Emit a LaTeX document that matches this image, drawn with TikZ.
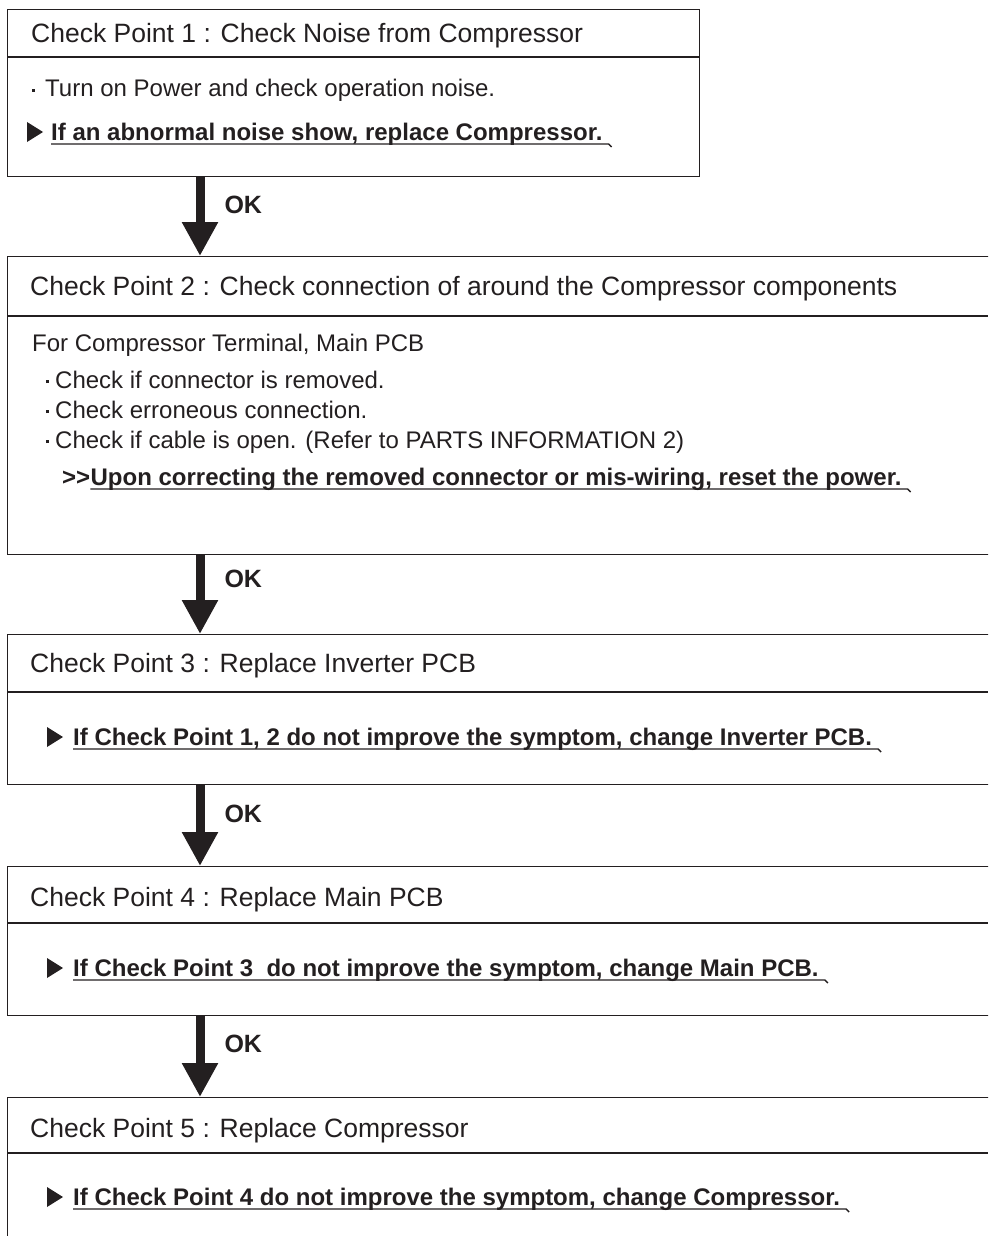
\documentclass[tikz,border=0pt]{standalone}
\usepackage{fontspec}
\setmainfont{Liberation Sans}
\usetikzlibrary{arrows.meta,calc}
\definecolor{ink}{HTML}{231F20}

% small square bullet
\newcommand{\sqbul}{\rule[5pt]{3pt}{3pt}\hspace{6pt}}

\begin{document}
\begin{tikzpicture}[x=1pt,y=-1pt,
  box/.style={draw=ink,line width=1.4pt,anchor=north west,inner sep=0pt},
  sep/.style={draw=ink,line width=1.4pt},
  title/.style={anchor=base west,inner sep=0pt,text=ink,font=\fontsize{26.5}{30}\selectfont},
  body/.style={anchor=base west,inner sep=0pt,text=ink,font=\fontsize{24}{28}\selectfont},
  bbody/.style={body,font=\fontsize{24}{28}\selectfont\bfseries},
  uline/.style={draw=ink,line width=1.4pt},
  okarrow/.style={draw=ink,line width=9pt,-{Triangle[width=34pt,length=34pt]}},
  oklabel/.style={anchor=west,inner sep=0pt,text=ink,font=\fontsize{25}{28}\selectfont\bfseries}]

\useasboundingbox (0,0) rectangle (988,1236);
\clip (0,0) rectangle (988,1236);

% Boxes
\node[box,minimum width=692pt,minimum height=167pt] (cp1) at (7,9) {};
\node[box,minimum width=1000pt,minimum height=298pt] (cp2) at (7,256) {};
\node[box,minimum width=1000pt,minimum height=150pt] (cp3) at (7,634) {};
\node[box,minimum width=1000pt,minimum height=149pt] (cp4) at (7,866) {};
\node[box,minimum width=1000pt,minimum height=160pt] (cp5) at (7,1097) {};

% Header lines
\draw[sep] (7,57)--(699,57);
\draw[sep] (7,316)--(988,316);
\draw[sep] (7,692)--(988,692);
\draw[sep] (7,923)--(988,923);
\draw[sep] (7,1153)--(988,1153);

% Check Point 1
\node[title] (t1) at (31,42.5) {Check Point 1 : Check Noise from Compressor};
\node[body] (b1) at (32,97) {\sqbul\hspace{4pt}Turn on Power and check operation noise.};
\node[bbody] (u1) at (51,140) {If an abnormal noise show, replace Compressor.};
\fill[ink] ($(u1.base west)+(-24,-18)$) -- ++(16,10) -- ++(-16,10) -- cycle;

% Check Point 2
\node[title] (t2) at (30,295.5) {Check Point 2 : Check connection of around the Compressor components};
\node[body] (b2) at (32,351) {For Compressor Terminal, Main PCB};
\node[body] (b3) at (46,388) {\sqbul Check if connector is removed.};
\node[body] (b4) at (46,418) {\sqbul Check erroneous connection.};
\node[body] (b5) at (46,448) {\sqbul Check if cable is open. (Refer to PARTS INFORMATION 2)};
\node[bbody] (g2) at (62,485) {>{}>};
\node[bbody] (u2) at (g2.base east) {Upon correcting the removed connector or mis-wiring, reset the power.};

% Check Point 3
\node[title] (t3) at (30,672.5) {Check Point 3 : Replace Inverter PCB};
\node[bbody] (u3) at (73,745) {If Check Point 1, 2 do not improve the symptom, change Inverter PCB.};
\fill[ink] ($(u3.base west)+(-26,-18)$) -- ++(16,10) -- ++(-16,10) -- cycle;

% Check Point 4
\node[title] (t4) at (30,906.5) {Check Point 4 : Replace Main PCB};
\node[bbody] (u4) at (73,976) {If Check Point 3\ \ do not improve the symptom, change Main PCB.};
\fill[ink] ($(u4.base west)+(-26,-18)$) -- ++(16,10) -- ++(-16,10) -- cycle;

% Check Point 5
\node[title] (t5) at (30,1137.5) {Check Point 5 : Replace Compressor};
\node[bbody] (u5) at (73,1205) {If Check Point 4 do not improve the symptom, change Compressor.};
\fill[ink] ($(u5.base west)+(-26,-18)$) -- ++(16,10) -- ++(-16,10) -- cycle;

% Underlines
\foreach \u in {u1,u2,u3,u4,u5}
  \draw[uline] ($(\u.base west)+(0,4)$) -- ($(\u.base east)+(6,4)$) -- ++(3,3);

% OK arrows
\coordinate (ax) at (200,0);
\draw[okarrow] (cp1.south -| ax) -- (cp2.north -| ax) node[oklabel,pos=0.35,xshift=20pt] (ok1) {OK};
\draw[okarrow] (cp2.south -| ax) -- (cp3.north -| ax) node[oklabel,pos=0.3,xshift=20pt] (ok2) {OK};
\draw[okarrow] (cp3.south -| ax) -- (cp4.north -| ax) node[oklabel,pos=0.35,xshift=20pt] (ok3) {OK};
\draw[okarrow] (cp4.south -| ax) -- (cp5.north -| ax) node[oklabel,pos=0.34,xshift=20pt] (ok4) {OK};

\end{tikzpicture}
\end{document}
